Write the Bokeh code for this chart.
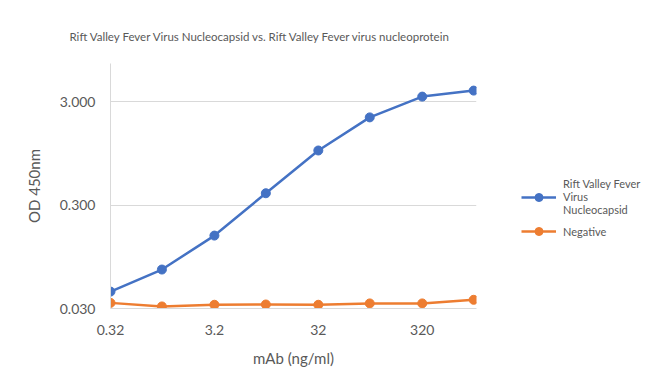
from bokeh.plotting import figure
from bokeh.models import FixedTicker, PrintfTickFormatter, Legend, LegendItem, Title
from bokeh.embed import file_html
from bokeh.resources import INLINE

# Data
conc = [0.32, 1, 3.2, 10, 32, 100, 320, 1000]
rvf_np = [0.0437, 0.0714, 0.152, 0.39, 1.01, 2.11, 3.35, 3.83]
negative = [0.0340, 0.0314, 0.0326, 0.0328, 0.0326, 0.0336, 0.0336, 0.0364]
x_ticks = [0.32, 3.2, 32, 320]
x_tick_labels = ["0.32", "3.2", "32", "320"]
y_ticks = [0.03, 0.3, 3.0]

series_names = ["Rift Valley Fever\nVirus\nNucleocapsid", "Negative"]
colors = ["#4472C4", "#ED7D31"]

FONT = "Lato"
TXT = "#595959"
GRID = "#D9D9D9"

p = figure(frame_width=366, frame_height=245, x_axis_type="log", y_axis_type="log",
           x_range=(conc[0], conc[-1] * 1.065), y_range=(0.03, 7.0),
           output_backend="svg", toolbar_location=None,
           min_border_left=110, min_border_right=150,
           min_border_top=63, min_border_bottom=74)
p.outline_line_color = None
p.background_fill_color = "white"
p.border_fill_color = "white"

r1 = p.line(conc, rvf_np, line_color=colors[0], line_width=2.5)
m1 = p.scatter(conc, rvf_np, size=9, fill_color=colors[0], line_color=colors[0])
r2 = p.line(conc, negative, line_color=colors[1], line_width=2.5)
m2 = p.scatter(conc, negative, size=9, fill_color=colors[1], line_color=colors[1])

# X axis
p.xaxis.ticker = FixedTicker(ticks=x_ticks)
p.xaxis.major_label_overrides = {t: l for t, l in zip(x_ticks, x_tick_labels)}
p.xaxis.axis_label = "mAb (ng/ml)"
p.xaxis.axis_line_color = GRID
p.xaxis.major_tick_line_color = None
p.xaxis.minor_tick_line_color = None
p.xaxis.major_label_text_font = FONT
p.xaxis.major_label_text_font_size = "14px"
p.xaxis.major_label_text_color = TXT
p.xaxis.major_label_standoff = 10
p.xaxis.axis_label_text_font = FONT
p.xaxis.axis_label_text_font_size = "15px"
p.xaxis.axis_label_text_font_style = "normal"
p.xaxis.axis_label_text_color = TXT
p.xaxis.axis_label_standoff = 11
p.xgrid.grid_line_color = None

# Y axis
p.yaxis.ticker = FixedTicker(ticks=y_ticks)
p.yaxis.formatter = PrintfTickFormatter(format="%.3f")
p.yaxis.axis_label = "OD 450nm"
p.yaxis.axis_line_color = GRID
p.yaxis.major_tick_line_color = None
p.yaxis.minor_tick_line_color = None
p.yaxis.major_label_text_font = FONT
p.yaxis.major_label_text_font_size = "14px"
p.yaxis.major_label_text_color = TXT
p.yaxis.major_label_standoff = 9
p.yaxis.axis_label_text_font = FONT
p.yaxis.axis_label_text_font_size = "15px"
p.yaxis.axis_label_text_font_style = "normal"
p.yaxis.axis_label_text_color = TXT
p.yaxis.axis_label_standoff = 14
p.ygrid.grid_line_color = GRID
p.ygrid.ticker = FixedTicker(ticks=y_ticks)

# Title
t = Title(text="Rift Valley Fever Virus Nucleocapsid vs. Rift Valley Fever virus nucleoprotein",
          align="left", offset=-41, standoff=41, text_font=FONT, text_font_size="11.5px",
          text_font_style="normal", text_color=TXT)
p.add_layout(t, "above")

legend = Legend(items=[LegendItem(label=series_names[0], renderers=[r1, m1]),
                       LegendItem(label=series_names[1], renderers=[r2, m2])],
                location=(45, 67), label_text_font=FONT,
                label_text_font_size="11px", label_text_color=TXT,
                border_line_color=None, background_fill_alpha=0,
                glyph_width=35, label_standoff=7, spacing=5, padding=5, margin=0)
p.add_layout(legend, "right")

open("out.html", "w").write(file_html(p, INLINE))
